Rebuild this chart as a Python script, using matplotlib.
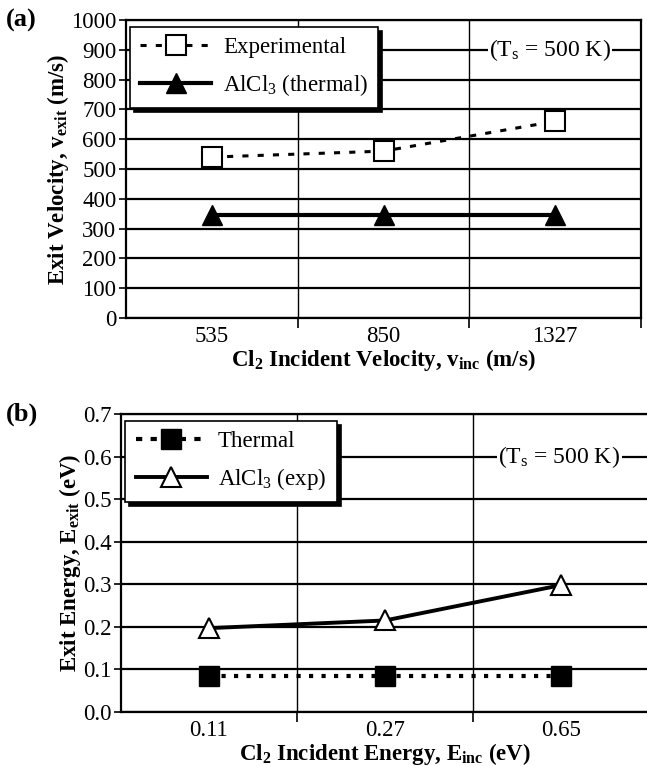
import matplotlib
matplotlib.use('Agg')
import matplotlib.pyplot as plt
from matplotlib.lines import Line2D
import numpy as np

# data
vel_labels = ['535', '850', '1327']
vel_exp = [540, 560, 660]
vel_thermal = [345, 345, 345]

en_labels = ['0.11', '0.27', '0.65']
en_thermal = [0.085, 0.085, 0.085]
en_exp = [0.197, 0.215, 0.298]

plt.rcParams['font.family'] = ['Liberation Serif', 'DejaVu Serif']
plt.rcParams['mathtext.fontset'] = 'custom'
plt.rcParams['mathtext.rm'] = 'Liberation Serif'
plt.rcParams['mathtext.it'] = 'Liberation Serif:italic'
plt.rcParams['mathtext.bf'] = 'Liberation Serif:bold'

FS = 16.5

fig = plt.figure(figsize=(6.47, 7.66), dpi=100)

W, H = 647.0, 766.0
ax1 = fig.add_axes([126 / W, 1 - 318 / H, (641 - 126) / W, (318 - 20) / H])
ax2 = fig.add_axes([121 / W, 1 - 712 / H, (649 - 121) / W, (712 - 414) / H])


def style_axes(ax, ymax, ystep, fmt):
    ax.set_xlim(-0.5, 2.5)
    ax.set_ylim(0, ymax)
    ax.set_yticks(np.arange(0, ymax + ystep / 2, ystep))
    ax.set_yticklabels([fmt % v for v in np.arange(0, ymax + ystep / 2, ystep)])
    ax.set_xticks([0, 1, 2])
    ax.set_xticks([0.5, 1.5, 2.5], minor=True)
    ax.tick_params(axis='x', which='major', length=0, labelsize=FS, pad=6)
    ax.tick_params(axis='x', which='minor', length=7, width=1.2, direction='out')
    ax.tick_params(axis='y', length=5, width=1.2, direction='out', labelsize=FS, pad=2)
    ax.yaxis.grid(True, color='black', linewidth=1.6)
    ax.xaxis.grid(True, which='minor', color='black', linewidth=1.0)
    ax.set_axisbelow(True)
    for s in ax.spines.values():
        s.set_linewidth(1.6)


def add_legend(ax, handles, labels):
    leg = ax.legend(handles, labels, loc='upper left',
                    bbox_to_anchor=(0.008, 0.978), borderaxespad=0,
                    fontsize=FS, frameon=True, fancybox=False,
                    shadow={'color': 'black', 'alpha': 1, 'ox': 3, 'oy': -3},
                    edgecolor='black', framealpha=1, handlelength=3.1,
                    handletextpad=0.5, borderpad=0.45, labelspacing=0.6)
    leg.get_frame().set_linewidth(1.2)
    return leg


x = np.arange(3)

# ---- (a) velocities
style_axes(ax1, 1000, 100, '%d')
ax1.set_xticklabels(vel_labels)
ax1.plot(x, vel_exp, linestyle=(0, (2, 3)), color='black', linewidth=2.2,
         marker='s', markersize=14, markerfacecolor='white',
         markeredgecolor='black', markeredgewidth=1.5, zorder=3)
ax1.plot(x, vel_thermal, linestyle='-', color='black', linewidth=3,
         marker='^', markersize=15, markerfacecolor='black',
         markeredgecolor='black', zorder=3)
ax1.set_ylabel(r'Exit Velocity, v$_{\mathbf{exit}}$ (m/s)', fontsize=FS,
               fontweight='bold', labelpad=0)
ax1.set_xlabel(r'Cl$_{\mathbf{2}}$ Incident Velocity, v$_{\mathbf{inc}}$ (m/s)',
               fontsize=FS, fontweight='bold', labelpad=0)
h1 = [Line2D([], [], linestyle=(0, (2, 3)), color='black', linewidth=2.2,
             marker='s', markersize=14, markerfacecolor='white',
             markeredgecolor='black', markeredgewidth=1.5),
      Line2D([], [], linestyle='-', color='black', linewidth=3,
             marker='^', markersize=15, markerfacecolor='black')]
add_legend(ax1, h1, ['Experimental', r'AlCl$_3$ (thermal)'])
ax1.text(1.97, 900, r'(T$_\mathrm{s}$ = 500 K)', fontsize=17, ha='center',
         va='center', bbox=dict(facecolor='white', edgecolor='none', pad=1))
fig.text(6 / W, 1 - 20 / H, '(a)', fontsize=19, fontweight='bold', va='center')

# ---- (b) energies
style_axes(ax2, 0.7, 0.1, '%.1f')
ax2.spines['right'].set_visible(False)
ax2.set_xticklabels(en_labels)
ax2.plot(x, en_thermal, linestyle=(0, (1, 2)), color='black', linewidth=3,
         marker='s', markersize=14, markerfacecolor='black',
         markeredgecolor='black', zorder=3)
ax2.plot(x, en_exp, linestyle='-', color='black', linewidth=2.8,
         marker='^', markersize=15, markerfacecolor='white',
         markeredgecolor='black', markeredgewidth=1.5, zorder=3)
ax2.set_ylabel(r'Exit Energy, E$_{\mathbf{exit}}$ (eV)', fontsize=FS,
               fontweight='bold', labelpad=0)
ax2.set_xlabel(r'Cl$_{\mathbf{2}}$ Incident Energy, E$_{\mathbf{inc}}$ (eV)',
               fontsize=FS, fontweight='bold', labelpad=0)
h2 = [Line2D([], [], linestyle=(0, (1.5, 2)), color='black', linewidth=3,
             marker='s', markersize=14, markerfacecolor='black'),
      Line2D([], [], linestyle='-', color='black', linewidth=2.8,
             marker='^', markersize=15, markerfacecolor='white',
             markeredgecolor='black', markeredgewidth=1.5)]
add_legend(ax2, h2, ['Thermal', r'AlCl$_3$ (exp)'])
ax2.text(1.99, 0.6, r'(T$_\mathrm{s}$ = 500 K)', fontsize=17, ha='center',
         va='center', bbox=dict(facecolor='white', edgecolor='none', pad=1))
fig.text(6 / W, 1 - 414 / H, '(b)', fontsize=19, fontweight='bold', va='center')

fig.savefig('out.png', dpi=100)
